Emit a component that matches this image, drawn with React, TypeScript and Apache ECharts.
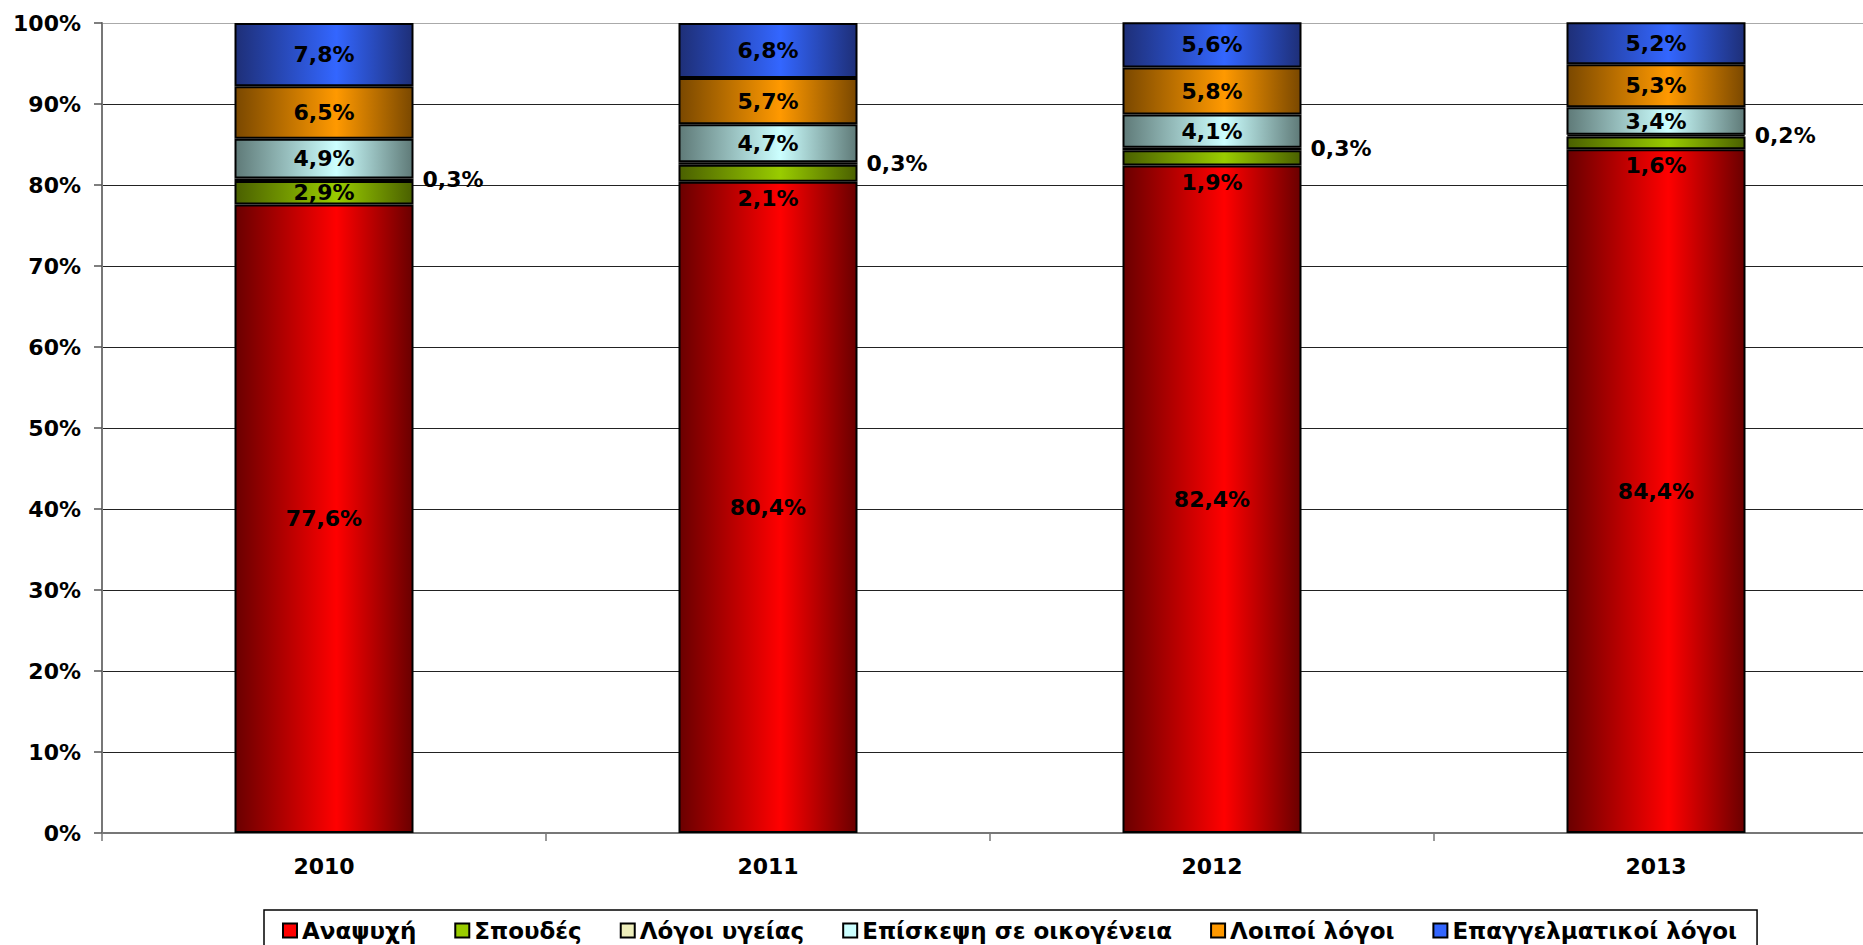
import React, { useEffect, useRef } from "react";
import * as echarts from "echarts";

const years = ["2010", "2011", "2012", "2013"];
const seriesNames = [
  "Αναψυχή",
  "Σπουδές",
  "Λόγοι υγείας",
  "Επίσκεψη σε οικογένεια",
  "Λοιποί λόγοι",
  "Επαγγελματικοί λόγοι",
];
const anapsyxi = [77.6, 80.4, 82.4, 84.4];
const spoudes = [2.9, 2.1, 1.9, 1.6];
const ygeia = [0.3, 0.3, 0.3, 0.2];
const oikogeneia = [4.9, 4.7, 4.1, 3.4];
const loipoi = [6.5, 5.7, 5.8, 5.3];
const epaggelmatikoi = [7.8, 6.8, 5.6, 5.2];
const yTicks = [0, 10, 20, 30, 40, 50, 60, 70, 80, 90, 100];

// visual styling (not data)
const darkColors = ["#6a0000", "#4a6000", "#8a8a60", "#5f7a78", "#7a4800", "#1e2f78"];
const brightColors = ["#ff0000", "#99cc00", "#ffffcc", "#ccffff", "#ff9900", "#3366ff"];
const flatColors = ["#ff0000", "#99cc00", "#eeeebb", "#ccffff", "#ff9900", "#3366ff"];
const greenLabelShift = [0, 25, 25, 23];

const FONT = "'DejaVu Sans', 'Liberation Sans', Arial, sans-serif";

function fmt(v: number) {
  return v.toFixed(1).replace(".", ",") + "%";
}

function grad(i: number) {
  return new echarts.graphic.LinearGradient(0, 0, 1, 0, [
    { offset: 0, color: darkColors[i] },
    { offset: 0.57, color: brightColors[i] },
    { offset: 1, color: darkColors[i] },
  ]);
}

export default function App() {
  const ref = useRef<HTMLDivElement>(null);
  useEffect(() => {
    document.body.style.margin = "0";
    const chart = echarts.init(ref.current!, null, { renderer: "svg" });
    const allData = [anapsyxi, spoudes, ygeia, oikogeneia, loipoi, epaggelmatikoi];
    const labelBase = {
      show: true,
      color: "#000",
      fontFamily: FONT,
      fontWeight: "bold" as const,
      fontSize: 22,
      formatter: (p: any) => fmt(p.value),
    };
    const series = allData.map((arr, i) => {
      let data: any[] = arr;
      let label: any = { ...labelBase, position: "inside" };
      if (i === 1) {
        data = arr.map((v, k) => ({ value: v, label: { offset: [0, greenLabelShift[k]] } }));
      }
      if (i === 2) {
        label = { ...labelBase, position: "right", distance: 9 };
      }
      return {
        name: seriesNames[i],
        type: "bar",
        stack: "total",
        barWidth: 179,
        data,
        label,
        itemStyle: { color: grad(i), borderColor: "#000", borderWidth: 2 },
        z: i === 1 ? 3 : 2,
      };
    });
    chart.setOption({
      animation: false,
      backgroundColor: "#fff",
      grid: {
        left: 102,
        top: 23,
        width: 1776,
        bottom: 112,
        containLabel: false,
        outerBoundsMode: "none",
      },
      legend: {
        left: 264,
        top: 910,
        orient: "horizontal",
        itemWidth: 14,
        itemHeight: 14,
        itemGap: 38,
        padding: [9, 20, 12, 18],
        borderColor: "#000",
        borderWidth: 1.5,
        icon: "rect",
        itemStyle: { borderColor: "#000", borderWidth: 2 },
        textStyle: {
          fontFamily: FONT,
          fontWeight: "bold",
          fontSize: 23,
          color: "#000",
        },
        data: seriesNames.map((n, i) => ({ name: n, itemStyle: { color: flatColors[i] } })),
      },
      xAxis: {
        type: "category",
        data: years,
        axisLine: { lineStyle: { color: "#777", width: 2 } },
        axisTick: { show: true, length: 8, lineStyle: { color: "#777", width: 1.5 } },
        axisLabel: {
          color: "#000",
          fontFamily: FONT,
          fontWeight: "bold",
          fontSize: 22,
          margin: 22,
        },
      },
      yAxis: {
        type: "value",
        min: yTicks[0],
        max: yTicks[yTicks.length - 1],
        interval: 10,
        axisLine: { show: true, lineStyle: { color: "#777", width: 2 } },
        axisTick: { show: true, length: 8, lineStyle: { color: "#555", width: 1.5 } },
        axisLabel: {
          color: "#000",
          fontFamily: FONT,
          fontWeight: "bold",
          fontSize: 22,
          margin: 21,
          formatter: "{value}%",
        },
        splitLine: {
          show: true,
          lineStyle: {
            color: ["#222", "#222", "#222", "#222", "#222", "#222", "#222", "#222", "#222", "#222", "#aaa"],
            width: 1,
          },
        },
      },
      series,
    });
    return () => chart.dispose();
  }, []);
  return <div ref={ref} style={{ width: 1863, height: 945 }} />;
}
